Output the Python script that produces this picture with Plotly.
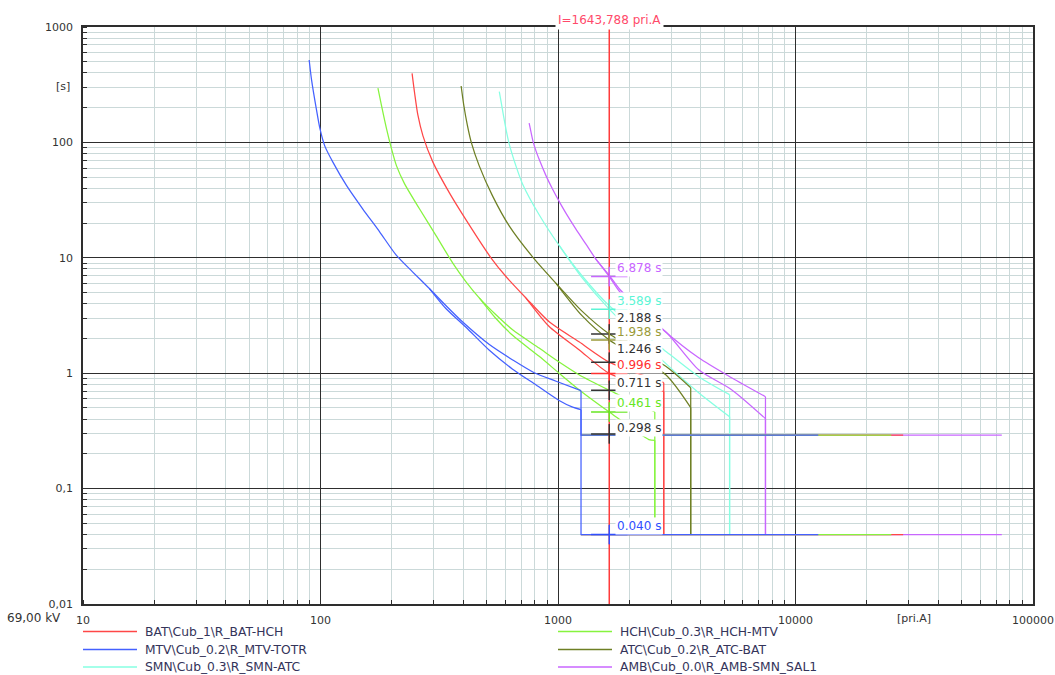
import math
import plotly.graph_objects as go

# ---------------- tripping characteristics: current [pri.A] / time [s] ----------------
# every relay is drawn as an upper and a lower band; the lower band starts where they separate

# BAT\Cub_1\R_BAT-HCH
BAT_I_UP = [243, 249, 257, 270, 297, 349, 410, 522, 605, 732, 918, 1226, 1644, 2788, 2788]
BAT_T_UP = [397, 268, 173, 114, 67.8, 36.5, 21.3, 10.0, 6.85, 4.50, 2.79, 1.87, 1.246, 0.828, 0.04]
BAT_I_LO = [732, 918, 1226, 1644, 2788, 2788]
BAT_T_LO = [4.50, 2.54, 1.60, 0.996, 0.691, 0.04]

# MTV\Cub_0.2\R_MTV-TOTR
MTV_I_UP = [89.6, 91.7, 96.2, 99.3, 104.2, 112.6, 128.6, 150.5, 177.4, 208, 244, 288, 338, 396,
            514, 642, 794, 982, 1250, 1250, 12470]
MTV_T_UP = [518, 348, 191, 133.5, 93.3, 67.8, 42.4, 26.6, 16.8, 10.6, 7.56, 5.39, 3.84, 2.79,
            1.77, 1.31, 1.01, 0.852, 0.706, 0.29, 0.29]
MTV_I_LO = [288, 338, 410, 514, 642, 809, 1011, 1146, 1250, 1250, 12470]
MTV_T_LO = [5.39, 3.62, 2.50, 1.58, 1.09, 0.79, 0.58, 0.51, 0.483, 0.04, 0.04]

# SMN\Cub_0.3\R_SMN-ATC
SMN_I_UP = [566, 577, 588, 605, 623, 665, 709, 833, 1011, 1262, 1644, 2788, 3911, 5278, 5278]
SMN_T_UP = [275, 220, 176, 128, 97.1, 62.6, 43.7, 23.6, 12.8, 6.99, 3.84, 1.60, 0.933, 0.652, 0.04]
SMN_I_LO = [1011, 1262, 1644, 2788, 3911, 5278, 5278]
SMN_T_LO = [12.8, 6.72, 3.589, 1.26, 0.678, 0.420, 0.04]

# HCH\Cub_0.3\R_HCH-MTV
HCH_I_UP = [174.5, 180.4, 189.3, 198.6, 209, 226, 261, 307, 360, 410, 466, 548, 644, 833,
            1011, 1226, 1644, 2556, 2556]
HCH_T_UP = [295, 211, 133.5, 89.6, 62.6, 43.7, 26.6, 15.5, 9.05, 6.20, 4.50, 3.21, 2.38, 1.65,
            1.25, 0.97, 0.711, 0.461, 0.056]
HCH_I_LO = [466, 548, 644, 833, 1011, 1226, 1644, 2413, 2556, 2556]
HCH_T_LO = [4.50, 2.98, 2.13, 1.40, 1.00, 0.72, 0.461, 0.266, 0.262, 0.056]

# ATC\Cub_0.2\R_ATC-BAT
ATC_I_UP = [391, 401, 415, 432, 466, 530, 623, 781, 979, 1262, 1644, 2843, 3621, 3621]
ATC_T_UP = [308, 211, 142, 99.0, 62.6, 34.4, 18.9, 10.2, 6.04, 3.45, 2.188, 1.15, 0.749, 0.04]
ATC_I_LO = [979, 1262, 1644, 2843, 3621, 3621]
ATC_T_LO = [6.04, 3.15, 1.938, 0.970, 0.503, 0.04]

# AMB\Cub_0.0\R_AMB-SMN_SAL1
AMB_I_UP = [756, 771, 786, 809, 833, 889, 947, 1011, 1078, 1188, 1309, 1441, 1644, 1835,
            2735, 3911, 5381, 7474, 7474]
AMB_T_UP = [147, 121, 101, 83.6, 71.3, 51.8, 39.6, 30.8, 24.5, 17.8, 13.2, 9.80, 7.05, 5.23,
            2.43, 1.36, 0.914, 0.626, 0.04]
AMB_I_LO = [1441, 1644, 1835, 2871, 3911, 5381, 7474, 7474]
AMB_T_LO = [9.80, 6.878, 4.98, 2.24, 1.07, 0.720, 0.404, 0.04]

# definite-time tails of the high-set stages
TAIL_I_START = 1250
TAIL_T = [0.29, 0.04]
HCH_TAIL_END = 25300
BAT_TAIL_END = 28400
AMB_TAIL_END = 73900

# cursor current and the times read at it
CURSOR_I = 1643.788
CURSOR_T = [6.878, 3.589, 2.188, 1.938, 1.246, 0.996, 0.711, 0.461, 0.298, 0.040]

# ---------------- styles ----------------
RED = "#ff4747"
BLUE = "#4461ff"
CYAN = "#86ffe2"
GREEN = "#86f43e"
OLIVE = "#6e7f24"
PURPLE = "#c866ff"
DARK = "#333333"

CURSOR_COLORS = [PURPLE, "#5cf5d6", DARK, "#9a9a38", DARK, "#ff3030", DARK, "#66e622", DARK, "#3050ff"]
CURSOR_TEXT_SHIFT = [8.5, 8, 16, 8.5, 13.5, 8.5, 7.5, 9, 6, 8.5]

FONT = "DejaVu Sans"

W, H = 1055, 675
ML, MR, MT, MB = 83, 22, 27, 71
PW, PH = W - ML - MR, H - MT - MB


def pxx(px):
    return (px - ML) / PW


def pxy(py):
    return (H - MB - py) / PH


def split_at_step(i_vals, t_vals):
    """Curved part up to the first vertical drop, and the straight step part after it."""
    for k in range(len(i_vals) - 1):
        if i_vals[k] == i_vals[k + 1]:
            return (i_vals[:k + 1], t_vals[:k + 1]), (i_vals[k:], t_vals[k:])
    return (i_vals, t_vals), ([], [])


def band_traces(i_up, t_up, i_lo, t_lo, color, tail_end=None):
    curve_x, curve_y, step_x, step_y = [], [], [], []
    for iv, tv in ((i_up, t_up), (i_lo, t_lo)):
        (cx, cy), (sx, sy) = split_at_step(iv, tv)
        curve_x += list(cx) + [None]
        curve_y += list(cy) + [None]
        step_x += list(sx) + [None]
        step_y += list(sy) + [None]
    if tail_end is not None:
        for level in TAIL_T:
            step_x += [TAIL_I_START, tail_end, None]
            step_y += [level, level, None]
    style = dict(color=color, width=1.25)
    return [
        go.Scatter(x=curve_x, y=curve_y, mode="lines", line=dict(style, shape="spline", smoothing=0.7),
                   hoverinfo="skip", showlegend=False),
        go.Scatter(x=step_x, y=step_y, mode="lines", line=style, hoverinfo="skip", showlegend=False),
    ]


fig = go.Figure()
fig.add_traces(band_traces(SMN_I_UP, SMN_T_UP, SMN_I_LO, SMN_T_LO, CYAN))
fig.add_traces(band_traces(ATC_I_UP, ATC_T_UP, ATC_I_LO, ATC_T_LO, OLIVE))
fig.add_traces(band_traces(AMB_I_UP, AMB_T_UP, AMB_I_LO, AMB_T_LO, PURPLE, AMB_TAIL_END))
fig.add_traces(band_traces(BAT_I_UP, BAT_T_UP, BAT_I_LO, BAT_T_LO, RED, BAT_TAIL_END))
fig.add_traces(band_traces(HCH_I_UP, HCH_T_UP, HCH_I_LO, HCH_T_LO, GREEN, HCH_TAIL_END))
fig.add_traces(band_traces(MTV_I_UP, MTV_T_UP, MTV_I_LO, MTV_T_LO, BLUE))

# cursor line
fig.add_trace(go.Scatter(x=[CURSOR_I, CURSOR_I], y=[0.01, 1000], mode="lines",
                         line=dict(color="#ff3b3b", width=1.5), hoverinfo="skip", showlegend=False))

# cursor crosses
fig.add_trace(go.Scatter(x=[CURSOR_I] * len(CURSOR_T), y=CURSOR_T, mode="markers",
                         marker=dict(symbol="line-ew", size=26,
                                     line=dict(color=CURSOR_COLORS, width=1.5)),
                         hoverinfo="skip", showlegend=False))
fig.add_trace(go.Scatter(x=[CURSOR_I] * len(CURSOR_T), y=CURSOR_T, mode="markers",
                         marker=dict(symbol="line-ns", size=14,
                                     line=dict(color=CURSOR_COLORS, width=1.5)),
                         hoverinfo="skip", showlegend=False))

annotations = []
for t, c, dy in zip(CURSOR_T, CURSOR_COLORS, CURSOR_TEXT_SHIFT):
    annotations.append(dict(x=math.log10(CURSOR_I), y=math.log10(t), xref="x", yref="y",
                            text=f"{t:.3f} s", showarrow=False, xanchor="left", yanchor="middle",
                            xshift=6, yshift=dy, bgcolor="white", borderpad=1,
                            font=dict(family=FONT, size=12, color=c)))

annotations.append(dict(x=math.log10(CURSOR_I), y=pxy(20), xref="x", yref="paper",
                        text="I=1643,788 pri.A", showarrow=False, xanchor="center", yanchor="middle",
                        bgcolor="white", borderpad=2, font=dict(family=FONT, size=12, color="#ff4a6a")))

annotations.append(dict(x=pxx(63), y=pxy(86), xref="paper", yref="paper", text="[s]", showarrow=False,
                        xanchor="center", yanchor="middle", font=dict(family=FONT, size=11, color=DARK)))
annotations.append(dict(x=pxx(34), y=pxy(618), xref="paper", yref="paper", text="69,00 kV",
                        showarrow=False, xanchor="center", yanchor="middle",
                        font=dict(family=FONT, size=12, color=DARK)))
annotations.append(dict(x=pxx(914), y=pxy(618), xref="paper", yref="paper", text="[pri.A]",
                        showarrow=False, xanchor="center", yanchor="middle",
                        font=dict(family=FONT, size=11, color=DARK)))

# legend, two columns under the plot
LEGEND_NAMES = [r"BAT\Cub_1\R_BAT-HCH", r"MTV\Cub_0.2\R_MTV-TOTR", r"SMN\Cub_0.3\R_SMN-ATC",
                r"HCH\Cub_0.3\R_HCH-MTV", r"ATC\Cub_0.2\R_ATC-BAT", r"AMB\Cub_0.0\R_AMB-SMN_SAL1"]
LEGEND_COLORS = [RED, BLUE, CYAN, GREEN, OLIVE, PURPLE]
rows_py = [631.5, 649.5, 667]
cols_px = [(83, 137, 143), (558, 612, 618)]
shapes = []
for k, (name, col) in enumerate(zip(LEGEND_NAMES, LEGEND_COLORS)):
    x0, x1, xt = cols_px[k // 3]
    py = rows_py[k % 3]
    shapes.append(dict(type="line", xref="paper", yref="paper", x0=pxx(x0), x1=pxx(x1),
                       y0=pxy(py), y1=pxy(py), line=dict(color=col, width=1.5)))
    annotations.append(dict(x=pxx(xt), y=pxy(py), xref="paper", yref="paper", text=name,
                            showarrow=False, xanchor="left", yanchor="middle",
                            font=dict(family=FONT, size=12.3, color="#34345a")))

axis_common = dict(
    type="log", showline=True, linecolor="#2e2e2e", linewidth=1.5, mirror=True,
    showgrid=True, gridcolor="#2e2e2e", gridwidth=1.3, zeroline=False, automargin=False,
    ticks="", tickfont=dict(family=FONT, size=11, color=DARK),
    minor=dict(dtick="D1", showgrid=True, gridcolor="#cbd9d9", gridwidth=1,
               ticks="inside", ticklen=4, tickcolor="#2e2e2e", tickwidth=1),
)

fig.update_layout(
    width=W, height=H,
    margin=dict(l=ML, r=MR, t=MT, b=MB),
    plot_bgcolor="white", paper_bgcolor="white",
    showlegend=False,
    font=dict(family=FONT, size=11, color=DARK),
    xaxis=dict(axis_common, range=[1, 5],
               tickvals=[10, 100, 1000, 10000, 100000],
               ticktext=["10", "100", "1000", "10000", "100000"], ticklabelstandoff=5),
    yaxis=dict(axis_common, range=[-2, 3],
               tickvals=[0.01, 0.1, 1, 10, 100, 1000],
               ticktext=["0,01", "0,1", "1", "10", "100", "1000"], ticklabelstandoff=6),
    annotations=annotations,
    shapes=shapes,
)

fig.write_html("out.html")
